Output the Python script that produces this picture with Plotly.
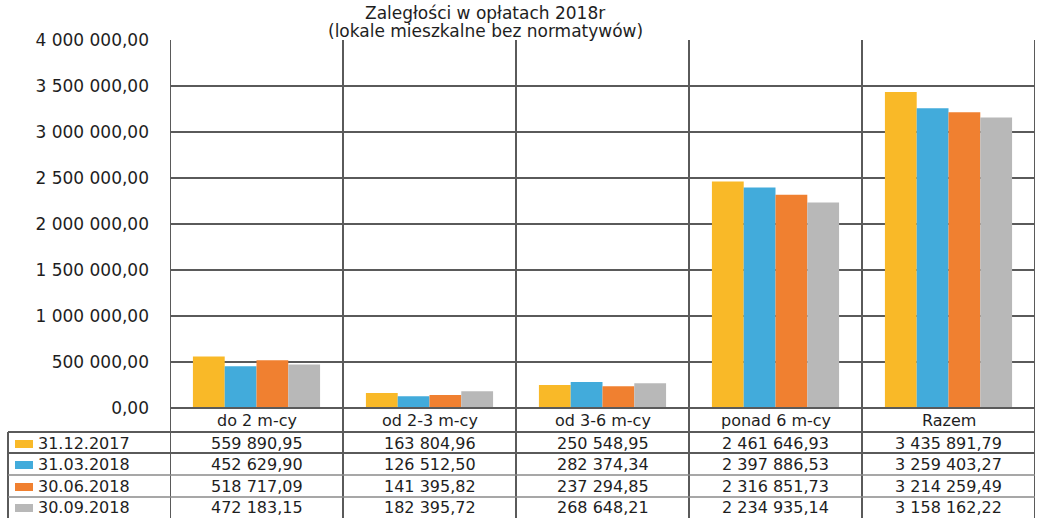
import plotly.graph_objects as go

categories = ["do 2 m-cy", "od 2-3 m-cy", "od 3-6 m-cy", "ponad 6 m-cy", "Razem"]
series_names = ["31.12.2017", "31.03.2018", "30.06.2018", "30.09.2018"]
s_2017_12 = [559890.95, 163804.96, 250548.95, 2461646.93, 3435891.79]
s_2018_03 = [452629.90, 126512.50, 282374.34, 2397886.53, 3259403.27]
s_2018_06 = [518717.09, 141395.82, 237294.85, 2316851.73, 3214259.49]
s_2018_09 = [472183.15, 182395.72, 268648.21, 2234935.14, 3158162.22]
series_values = [s_2017_12, s_2018_03, s_2018_06, s_2018_09]
colors = ["#F9B928", "#42ABDB", "#F08030", "#B8B8B8"]
y_ticks = [0, 500000, 1000000, 1500000, 2000000, 2500000, 3000000, 3500000, 4000000]
title_lines = ["Zaległości w opłatach 2018r", "(lokale mieszkalne bez normatywów)"]


def pl(v):
    return f"{v:,.2f}".replace(",", " ").replace(".", ",")


FONT = "DejaVu Sans"
TXT = "#1e1e1e"
LINE = "#5a5a5a"

# pixel layout helpers (plot area: x 170..1035, y 40..408)
X0, W = 170, 865
Y0, H = 408, 368


def px(p):
    return (p - X0) / W


def py(p):
    return (Y0 - p) / H


fig = go.Figure()
for name, vals, c in zip(series_names, series_values, colors):
    fig.add_trace(go.Bar(x=categories, y=vals, name=name, marker=dict(color=c, line=dict(width=0))))

shapes = []
# vertical category separators (through plot and table)
for i in range(len(categories) + 1):
    shapes.append(dict(type="line", xref="x", yref="paper", x0=i - 0.5, x1=i - 0.5,
                       y0=py(525), y1=1, line=dict(color=LINE, width=2)))
# left table border
shapes.append(dict(type="line", xref="paper", yref="paper", x0=px(8), x1=px(8),
                   y0=py(432), y1=py(525), line=dict(color=LINE, width=2)))
# x axis base line
shapes.append(dict(type="line", xref="paper", yref="paper", x0=0, x1=1,
                   y0=0, y1=0, line=dict(color=LINE, width=2)))
# table row lines
row_lines = [432, 453, 475, 497]
for k, r in enumerate(row_lines):
    shapes.append(dict(type="line", xref="paper", yref="paper", x0=px(8), x1=1,
                       y0=py(r), y1=py(r),
                       line=dict(color=LINE if k in (0, 1) else "#8a8a8a", width=2 if k in (0, 1) else 1.5)))

annotations = []
FS = 16
# category labels row
for c in categories:
    annotations.append(dict(x=c, y=py(420), xref="x", yref="paper", text=c, showarrow=False,
                            font=dict(family=FONT, size=FS, color=TXT), xanchor="center", yanchor="middle"))
row_centers = [443, 464, 486, 507]
for name, vals, col, rc in zip(series_names, series_values, colors, row_centers):
    shapes.append(dict(type="rect", xref="paper", yref="paper", x0=px(15), x1=px(33),
                       y0=py(rc + 5), y1=py(rc - 3), fillcolor=col, line=dict(width=0)))
    annotations.append(dict(x=px(36), y=py(rc), xref="paper", yref="paper", text=name, showarrow=False,
                            font=dict(family=FONT, size=FS, color=TXT), xanchor="left", yanchor="middle"))
    for c, v in zip(categories, vals):
        annotations.append(dict(x=c, y=py(rc), xref="x", yref="paper", text=pl(v), showarrow=False,
                                font=dict(family=FONT, size=FS, color=TXT), xanchor="center", yanchor="middle"))

# title
for line, yc in zip(title_lines, [13, 31]):
    annotations.append(dict(x=px(485), y=py(yc), xref="paper", yref="paper", text=line, showarrow=False,
                            font=dict(family=FONT, size=17, color=TXT), xanchor="center", yanchor="middle"))

fig.update_layout(
    width=1044, height=518,
    margin=dict(l=X0, r=1044 - X0 - W, t=40, b=518 - Y0),
    paper_bgcolor="white", plot_bgcolor="white",
    barmode="group", bargap=0.265, bargroupgap=0,
    showlegend=False,
    shapes=shapes, annotations=annotations,
    xaxis=dict(showticklabels=False, showgrid=False, zeroline=False, showline=False,
               range=[-0.5, len(categories) - 0.5]),
    yaxis=dict(range=[0, 4000000], tickvals=y_ticks, ticktext=[pl(v) for v in y_ticks],
               showgrid=True, gridcolor=LINE, gridwidth=1.5, zeroline=False, showline=False,
               ticks="", ticklabelstandoff=20,
               tickfont=dict(family=FONT, size=17, color=TXT)),
)

fig.write_html("out.html", config={"displayModeBar": False},
               post_script="document.body.style.margin='0';document.body.style.overflow='hidden';")
